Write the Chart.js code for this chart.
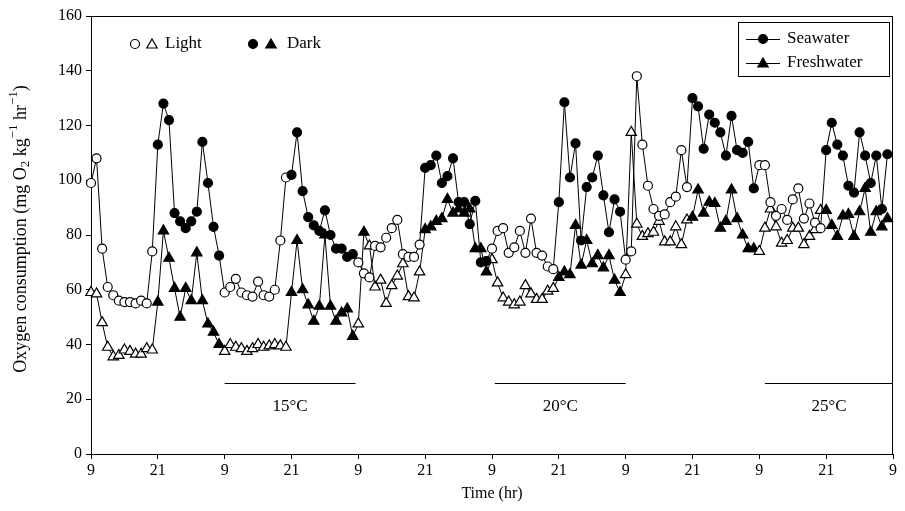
<!DOCTYPE html>
<html>
<head>
<meta charset="utf-8">
<script src="https://cdn.jsdelivr.net/npm/chart.js@4"></script>
<style>
  html, body { margin: 0; padding: 0; background: #fff; }
</style>
</head>
<body>
<canvas id="chart" width="905" height="511"></canvas>
<script>
// --- Data (hourly readings, hour 0 = 09:00 of day 1) ---
const tickLabels = ['9', '21', '9', '21', '9', '21', '9', '21', '9', '21', '9', '21', '9'];

const seawater = [
  99, 108, 75, 61, 58, 56, 55.5, 55.5, 55, 56, 55, 74,
  113, 128, 122, 88, 85, 82.5, 85, 88.5, 114, 99, 83, 72.5,
  59, 61, 64, 59, 58, 57.5, 63, 58, 57.5, 60, 78, 101,
  102, 117.5, 96, 86.5, 83.5, 81.5, 89, 80, 75, 75, 72, 73,
  70, 66, 64.5, 76, 75.5, 79, 82.5, 85.5, 73, 72, 72, 76.5,
  104.5, 105.5, 109, 99, 101.5, 108, 92, 92, 84, 92.5, 70, 70.5,
  75, 81.5, 82.5, 73.5, 75.5, 81.5, 73.5, 86, 73.5, 72.5, 68.5, 67.5,
  92, 128.5, 101, 113.5, 78, 97.5, 101, 109, 94.5, 81, 93, 88.5,
  71, 74, 138, 113, 98, 89.5, 87, 87.5, 92, 94, 111, 97.5,
  130, 127, 111.5, 124, 121, 117.5, 109, 123.5, 111, 110, 114, 97,
  105.5, 105.5, 92, 87, 89.5, 85.5, 93, 97, 86, 91.5, 84.5, 82.5,
  111, 121, 113, 109, 98, 95.5, 117.5, 109, 99, 109, 89.5, 109.5
];

const freshwater = [
  59, 58.5, 48, 39, 35.5, 36, 38, 37.5, 36.5, 36.5, 38.5, 38,
  55.5, 81.5, 71.5, 60.5, 50, 60.5, 56, 73.5, 56, 47.5, 44.5, 40,
  37.5, 40, 39, 38.5, 37.5, 38.5, 40, 39, 39.5, 40, 39.5, 39,
  59, 78, 60, 54.5, 48.5, 54, 80, 54, 48.5, 51.5, 53, 43,
  47.5, 81, 76, 61, 63.5, 55, 61.5, 65, 69.5, 57.5, 57, 66.5,
  82, 83, 85, 86, 93, 88, 89.5, 88, 89.5, 75, 75, 66.5,
  71, 62.5, 57, 55.5, 54.5, 55.5, 61.5, 58.5, 56.5, 56.5, 59.5, 60.5,
  64.5, 66.5, 65.5, 83.5, 69, 78, 69.5, 72.5, 68, 72.5, 63.5, 59,
  65.5, 117.5, 84, 79.5, 80.5, 81, 85, 77.5, 77.5, 83, 76.5, 85.5,
  86.5, 96.5, 88, 92, 91.5, 82.5, 85, 96.5, 86, 80, 75, 75,
  74, 82.5, 89.5, 83, 77, 78, 82.5, 82.5, 76.5, 79.5, 82, 89,
  89, 83.5, 79.5, 87, 87.5, 79.5, 88.5, 97, 81, 88.5, 83, 86
];

// a freshwater point drawn filled although it falls in the light phase
const freshFilledExtra = [49];

const tempPeriods = [
  { label: '15\u00B0C', start: 24, end: 47.5 },
  { label: '20\u00B0C', start: 72.5, end: 96 },
  { label: '25\u00B0C', start: 121, end: 144 }
];

// --- Helpers ---
const FONT = "'Liberation Serif', 'Times New Roman', serif";
const isDark = i => (i % 24) >= 12;
const toXY = arr => arr.map((v, i) => ({ x: i, y: v }));

const drawCircle = (ctx, x, y, r, filled) => {
    ctx.beginPath();
    ctx.arc(x, y, r, 0, Math.PI * 2);
    ctx.fillStyle = filled ? '#000' : '#fff';
    ctx.fill();
    ctx.stroke();
};
const drawTriangle = (ctx, x, y, r, filled) => {
    const w = r * Math.sin(Math.PI / 3);
    ctx.beginPath();
    ctx.moveTo(x, y - r);
    ctx.lineTo(x + w, y + r / 2);
    ctx.lineTo(x - w, y + r / 2);
    ctx.closePath();
    ctx.fillStyle = filled ? '#000' : '#fff';
    ctx.fill();
    ctx.stroke();
};

// --- Frame, titles, legends and temperature bars ---
const decorations = {
    id: 'decorations',
    beforeDatasetsDraw(chart) {
        const { ctx, chartArea: a } = chart;
        ctx.save();
        ctx.strokeStyle = '#000';
        ctx.lineWidth = 1;
        ctx.strokeRect(a.left + 0.5, a.top + 0.5, a.right - a.left - 1, a.bottom - a.top);
        ctx.restore();
    },
    afterDraw(chart) {
        const { ctx, chartArea: a, scales: { x, y } } = chart;
        ctx.save();
        ctx.strokeStyle = '#000';
        ctx.lineWidth = 1;

        // temperature periods
        ctx.font = '17px ' + FONT;
        ctx.fillStyle = '#000';
        ctx.textAlign = 'center';
        ctx.textBaseline = 'middle';
        tempPeriods.forEach(p => {
            const x1 = x.getPixelForValue(p.start);
            const x2 = x.getPixelForValue(p.end);
            const yl = Math.round(y.getPixelForValue(26)) + 0.5;
            ctx.beginPath();
            ctx.moveTo(x1, yl);
            ctx.lineTo(x2, yl);
            ctx.stroke();
            ctx.fillText(p.label, (x1 + x2) / 2, y.getPixelForValue(17.5));
        });

        // x title
        ctx.font = '16px ' + FONT;
        ctx.fillText('Time (hr)', (a.left + a.right) / 2, 494);

        // y title with sub/superscripts
        ctx.save();
        ctx.translate(21, (a.top + a.bottom) / 2 - 6);
        ctx.rotate(-Math.PI / 2);
        const parts = [
            ['Oxygen consumption (mg O', 18, 0],
            ['2', 13, 5],
            [' kg', 18, 0],
            ['\u22121', 13, -7],
            [' hr', 18, 0],
            ['\u22121', 13, -7],
            [')', 18, 0]
        ];
        let total = 0;
        parts.forEach(p => { ctx.font = p[1] + 'px ' + FONT; total += ctx.measureText(p[0]).width; });
        let cx = -total / 2;
        ctx.textAlign = 'left';
        parts.forEach(p => {
            ctx.font = p[1] + 'px ' + FONT;
            ctx.fillText(p[0], cx, p[2]);
            cx += ctx.measureText(p[0]).width;
        });
        ctx.restore();

        // light / dark key
        ctx.lineWidth = 1.2;
        ctx.font = '17px ' + FONT;
        ctx.textAlign = 'left';
        drawCircle(ctx, 135, 44, 4.5, false);
        drawTriangle(ctx, 152, 45, 6, false);
        drawCircle(ctx, 253, 44, 4.5, true);
        drawTriangle(ctx, 271, 45, 6, true);
        ctx.fillStyle = '#000';
        ctx.fillText('Light', 165, 44);
        ctx.fillText('Dark', 287, 44);

        // series legend box
        ctx.lineWidth = 1;
        ctx.strokeRect(738.5, 22.5, 151, 54);
        [['Seawater', 39, drawCircle, 4.5], ['Freshwater', 63, drawTriangle, 6]].forEach(([txt, ly, fn, r]) => {
            ctx.beginPath();
            ctx.moveTo(746, ly + 0.5);
            ctx.lineTo(780, ly + 0.5);
            ctx.stroke();
            ctx.lineWidth = 1.2;
            fn(ctx, 763, ly + (fn === drawTriangle ? 1 : 0), r, true);
            ctx.lineWidth = 1;
            ctx.fillStyle = '#000';
            ctx.fillText(txt, 787, ly);
        });
        ctx.restore();
    }
};

new Chart(document.getElementById('chart').getContext('2d'), {
    type: 'line',
    data: {
        datasets: [
            {
                label: 'Seawater',
                data: toXY(seawater),
                clip: false,
                borderColor: '#000',
                borderWidth: 1,
                pointStyle: 'circle',
                pointRadius: 4.5,
                pointBorderWidth: 1.2,
                pointBorderColor: '#000',
                pointBackgroundColor: c => isDark(c.dataIndex) ? '#000' : '#fff'
            },
            {
                label: 'Freshwater',
                data: toXY(freshwater),
                clip: false,
                borderColor: '#000',
                borderWidth: 1,
                pointStyle: 'triangle',
                pointRadius: 6,
                pointBorderWidth: 1.2,
                pointBorderColor: '#000',
                pointBackgroundColor: c =>
                    (isDark(c.dataIndex) || freshFilledExtra.includes(c.dataIndex)) ? '#000' : '#fff'
            }
        ]
    },
    options: {
        responsive: false,
        animation: false,
        layout: { padding: { left: 0, right: 12, top: 16, bottom: 0 } },
        plugins: {
            legend: { display: false },
            tooltip: { enabled: false }
        },
        scales: {
            x: {
                type: 'linear',
                min: 0,
                max: 144,
                afterFit: s => { s.height = 57; },
                grid: { display: true, drawOnChartArea: false, tickLength: 5, color: '#000' },
                border: { color: '#000', width: 1 },
                ticks: {
                    stepSize: 12,
                    autoSkip: false,
                    maxRotation: 0,
                    padding: 2,
                    color: '#000',
                    font: { family: FONT, size: 16 },
                    callback: v => tickLabels[Math.round(v / 12)]
                }
            },
            y: {
                min: 0,
                max: 160,
                afterFit: s => { s.width = 91; },
                grid: { display: true, drawOnChartArea: false, tickLength: 5, color: '#000' },
                border: { color: '#000', width: 1 },
                ticks: {
                    stepSize: 20,
                    padding: 4,
                    color: '#000',
                    font: { family: FONT, size: 16 }
                }
            }
        }
    },
    plugins: [decorations]
});
</script>
</body>
</html>
